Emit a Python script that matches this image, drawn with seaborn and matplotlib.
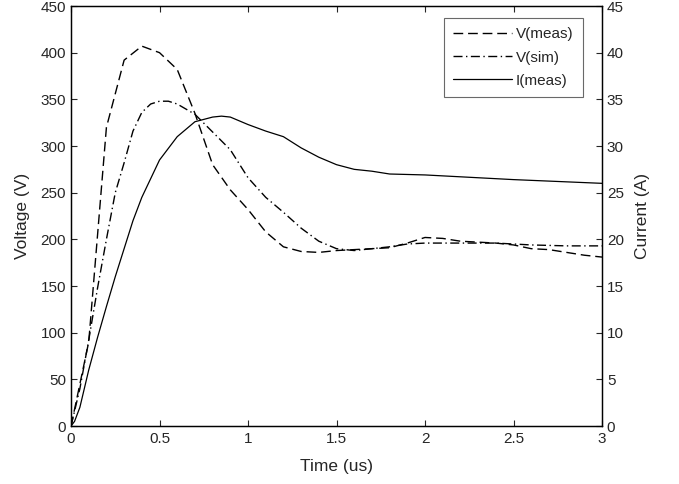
import numpy as np
import pandas as pd
import matplotlib
matplotlib.use("Agg")
import matplotlib.pyplot as plt
import seaborn as sns

# sample times (us) and values
t_vmeas = [0.0, 0.1, 0.2, 0.3, 0.4, 0.5, 0.6, 0.7, 0.8, 0.9, 1.0, 1.1, 1.2, 1.3, 1.4, 1.5,
           1.6, 1.7, 1.8, 1.9, 2.0, 2.1, 2.2, 2.3, 2.4, 2.5, 2.6, 2.7, 2.8, 2.9, 3.0]
v_meas = [0, 90, 320, 392, 407, 400, 382, 335, 280, 253, 232, 208, 192, 187, 186, 188,
          189, 190, 191, 196, 202, 201, 198, 197, 196, 194, 190, 189, 186, 183, 181]

t_vsim = [0.0, 0.05, 0.1, 0.15, 0.2, 0.25, 0.3, 0.35, 0.4, 0.45, 0.5, 0.55, 0.6, 0.7, 0.8,
          0.9, 1.0, 1.1, 1.2, 1.3, 1.4, 1.5, 1.6, 1.7, 1.8, 1.9, 2.0, 2.2, 2.4, 2.6, 2.8, 3.0]
v_sim = [0, 40, 92, 148, 200, 250, 282, 316, 336, 345, 348, 348, 345, 334, 315,
         296, 266, 245, 229, 212, 198, 190, 188, 190, 192, 195, 196, 196, 196, 194, 193, 193]

t_imeas = [0.0, 0.02, 0.05, 0.1, 0.15, 0.2, 0.25, 0.3, 0.35, 0.4, 0.5, 0.6, 0.7, 0.8, 0.85,
           0.9, 1.0, 1.1, 1.2, 1.3, 1.4, 1.5, 1.6, 1.7, 1.8, 2.0, 2.5, 3.0]
i_meas = [0, 0.5, 2.0, 6.0, 9.5, 12.8, 16.0, 19.0, 22.0, 24.5, 28.5, 31.0, 32.6, 33.1, 33.2,
          33.1, 32.3, 31.6, 31.0, 29.8, 28.8, 28.0, 27.5, 27.3, 27.0, 26.9, 26.4, 26.0]

df_vm = pd.DataFrame({'t': t_vmeas, 'v': v_meas})
df_vs = pd.DataFrame({'t': t_vsim, 'v': v_sim})
df_im = pd.DataFrame({'t': t_imeas, 'i': i_meas})

sns.set_style("ticks")
plt.rcParams['font.family'] = ['Liberation Sans', 'DejaVu Sans']
plt.rcParams['xtick.direction'] = 'in'
plt.rcParams['ytick.direction'] = 'in'

fig = plt.figure(figsize=(6.79, 4.84), dpi=100)
ax = fig.add_axes([0.1046, 0.1198, 0.782, 0.8678])

sns.lineplot(data=df_vm, x='t', y='v', ax=ax, color='black', lw=1.0, label='V(meas)')
sns.lineplot(data=df_vs, x='t', y='v', ax=ax, color='black', lw=1.0, label='V(sim)')
ax.lines[0].set_dashes((7, 3.5))
ax.lines[1].set_dashes((6.5, 2.5, 1, 2.5))

ax2 = ax.twinx()
sns.lineplot(data=df_im, x='t', y='i', ax=ax2, color='black', lw=0.9, label='I(meas)')

ax.set_xlim(0, 3)
ax.set_ylim(0, 450)
ax2.set_ylim(0, 45)
ax.set_xticks([0, 0.5, 1, 1.5, 2, 2.5, 3])
ax.set_xticklabels(['0', '0.5', '1', '1.5', '2', '2.5', '3'])
ax.set_yticks(np.arange(0, 451, 50))
ax2.set_yticks(np.arange(0, 46, 5))
ax.tick_params(axis='x', top=True, labelsize=11, length=4, width=0.8, pad=4)
ax.tick_params(axis='y', labelsize=11, length=4, width=0.8)
ax2.tick_params(axis='y', labelsize=11, length=4, width=0.8)

ax.set_xlabel('Time (us)', fontsize=12.5, labelpad=10)
ax.set_ylabel('Voltage (V)', fontsize=12.5, labelpad=8)
ax2.set_ylabel('Current (A)', fontsize=12.5, labelpad=8)

for a in (ax, ax2):
    for s in a.spines.values():
        s.set_linewidth(0.9)
        s.set_color('black')

h1, l1 = ax.get_legend_handles_labels()
h2, l2 = ax2.get_legend_handles_labels()
ax.get_legend().remove()
ax2.get_legend().remove()
leg = ax2.legend(h1 + h2, l1 + l2, loc='upper right', bbox_to_anchor=(0.964, 0.971),
                 fontsize=11, frameon=True, fancybox=False, edgecolor='#444444',
                 handlelength=3.8, borderpad=0.6, labelspacing=0.6, handletextpad=0.3,
                 borderaxespad=0)
leg.get_frame().set_linewidth(0.8)

fig.savefig('out.png', dpi=100)
